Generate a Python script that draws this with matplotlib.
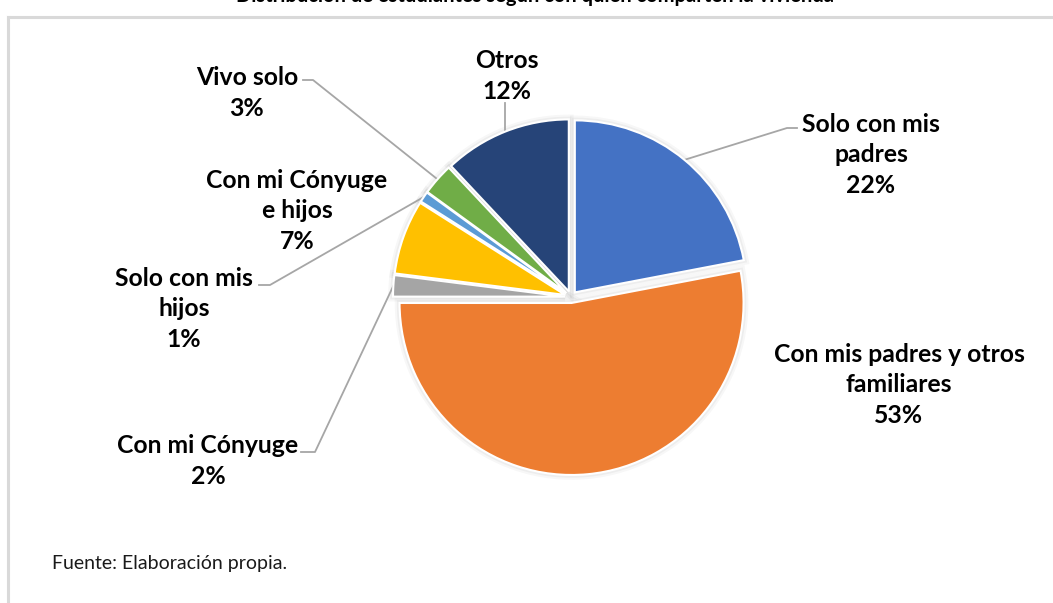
import matplotlib.pyplot as plt
from matplotlib.patches import Wedge
import numpy as np

# data
categorias = ["Solo con mis\npadres", "Con mis padres y otros\nfamiliares", "Con mi Cónyuge",
              "Con mi Cónyuge\ne hijos", "Solo con mis\nhijos", "Vivo solo", "Otros"]
porcentajes = [22, 53, 2, 7, 1, 3, 12]
colores = ["#4472C4", "#ED7D31", "#A5A5A5", "#FFC000", "#5B9BD5", "#70AD47", "#264478"]

titulo = "Distribución de estudiantes según con quién comparten la vivienda"
fuente = "Fuente: Elaboración propia."

W, H = 1053, 603
plt.rcParams['font.family'] = ['Lato', 'DejaVu Sans']

fig = plt.figure(figsize=(W / 100, H / 100), dpi=100)
ax = fig.add_axes([0, 0, 1, 1])

def py(y):
    # pixel row (from top) -> data y
    return H - y

cx, cy, r = 571, py(297), 172
wedges, _ = ax.pie(porcentajes, colors=colores, startangle=90, counterclock=False,
                   radius=r, center=(cx, cy), explode=[6] * len(porcentajes),
                   wedgeprops=dict(edgecolor="white", linewidth=1.5), frame=False)

# soft shadow around slices
for w in wedges:
    for lw, a in [(7, 0.03), (4, 0.04)]:
        ax.add_patch(Wedge(w.center, w.r, w.theta1, w.theta2, facecolor="none",
                           edgecolor="black", linewidth=lw, alpha=a, zorder=0))

ax.set_xlim(0, W)
ax.set_ylim(0, H)
ax.set_aspect("equal")
ax.axis("off")

def borde(i):
    w = wedges[i]
    t = np.deg2rad((w.theta1 + w.theta2) / 2)
    return w.center[0] + w.r * np.cos(t), w.center[1] + w.r * np.sin(t)

# label centers (px) and leader paths (px)
pos_etiquetas = [(871, 155), (899, 385), (208, 461), (297, 211), (184, 309), (247, 93), (507, 76)]
guias = {0: [(797, 128), (787, 128)], 2: [(301, 452), (315, 452)], 4: [(259, 285), (270, 285)],
         5: [(303, 80), (313, 80)], 6: [None, None]}

for i, (cat, val) in enumerate(zip(categorias, porcentajes)):
    x, y = pos_etiquetas[i]
    ax.text(x, py(y), f"{cat}\n{val}%", ha="center", va="center", fontsize=17.8,
            fontweight="bold", color="black", linespacing=1.42)
    if i in guias:
        bx, by = borde(i)
        if i == 6:
            xs, ys = [bx, bx], [py(103), by]
        else:
            (x0, y0), (x1, y1) = guias[i]
            xs, ys = [x0, x1, bx], [py(y0), py(y1), by]
        ax.plot(xs, ys, color="#A6A6A6", linewidth=1.3, zorder=0.5)

# chart frame (top and left edges visible)
ax.plot([8, W], [py(17), py(17)], color="#D9D9D9", linewidth=2.2)
ax.plot([8, 8], [py(17), 0], color="#D9D9D9", linewidth=2.2)

# title is cropped at the top edge in the reference
ax.text(535, py(2.5), titulo, ha="center", va="baseline", fontsize=14.5, fontweight="bold")
ax.text(52, py(569), fuente, ha="left", va="baseline", fontsize=14, color="#1a1a1a")

fig.savefig("out.png", dpi=100)
